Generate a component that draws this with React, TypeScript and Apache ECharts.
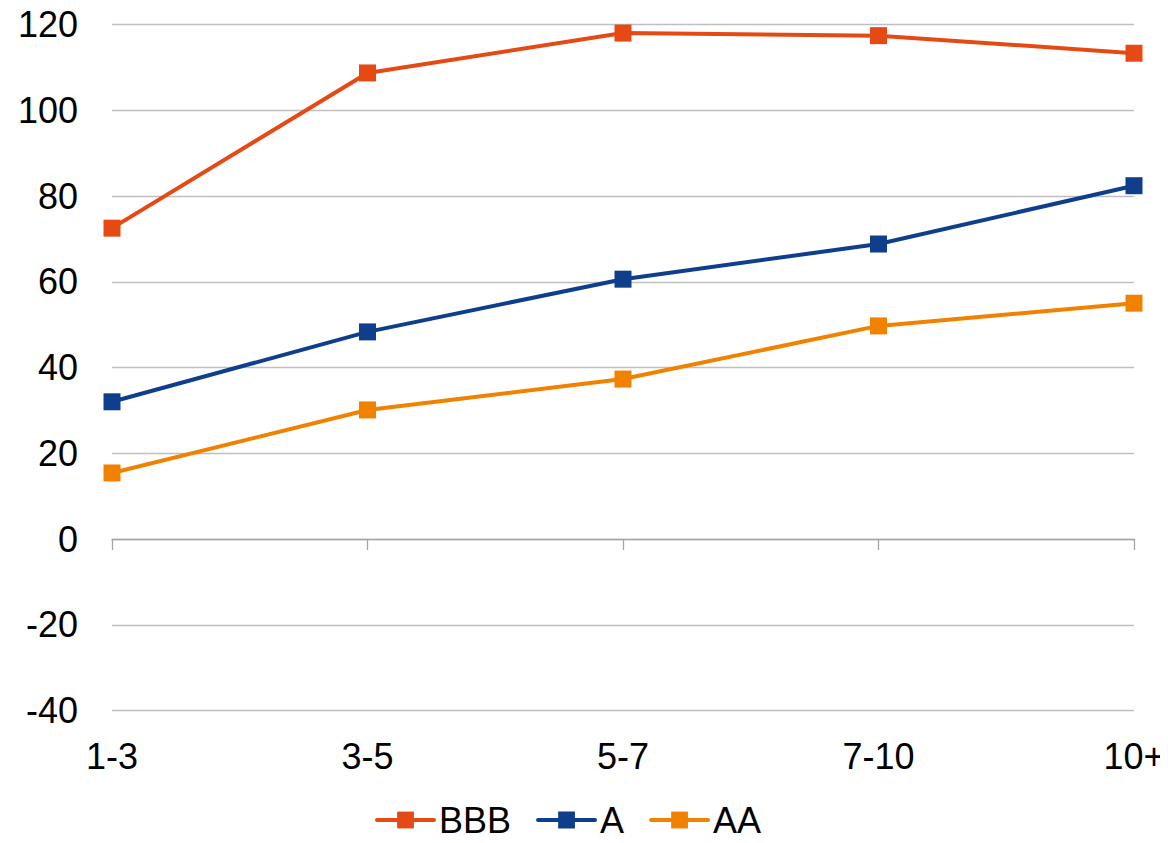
import React, { useEffect, useRef } from "react";
import * as echarts from "echarts";

const categories = ["1-3", "3-5", "5-7", "7-10", "10+"];
const bbb = [72.5, 108.7, 118.0, 117.4, 113.3];
const a = [32.0, 48.3, 60.6, 68.8, 82.4];
const aa = [15.4, 30.1, 37.3, 49.7, 55.0];

const FONT = "'Liberation Sans', Arial, sans-serif";

export default function App() {
  const ref = useRef<HTMLDivElement>(null);
  useEffect(() => {
    if (!ref.current) return;
    const chart = echarts.init(ref.current, undefined, { renderer: "svg" });
    const mk = (name: string, data: number[], color: string) => ({
      name,
      type: "line",
      data,
      xAxisIndex: 0,
      symbol: "rect",
      symbolSize: 17,
      lineStyle: { color, width: 4 },
      itemStyle: { color },
    });
    chart.setOption({
      animation: false,
      textStyle: { fontFamily: FONT },
      grid: { left: 112, right: 34, top: 24.5, bottom: 132.5, containLabel: false },
      xAxis: [
        {
          type: "category",
          data: categories,
          boundaryGap: false,
          position: "bottom",
          axisLine: { show: false, onZero: false },
          axisTick: { show: false },
          splitLine: { show: false },
          axisLabel: { color: "#000", fontSize: 36, fontFamily: FONT, margin: 28 },
        },
        {
          type: "category",
          data: categories,
          boundaryGap: false,
          position: "top",
          axisLine: { show: true, onZero: true, lineStyle: { color: "#A6A6A6", width: 1.3 } },
          axisTick: { show: true, inside: true, length: 11, lineStyle: { color: "#A6A6A6", width: 1.3 } },
          axisLabel: { show: false },
          splitLine: { show: false },
        },
      ],
      yAxis: {
        type: "value",
        min: -40,
        max: 120,
        interval: 20,
        axisLine: { show: false },
        axisTick: { show: false },
        splitLine: { lineStyle: { color: "#BFBFBF", width: 1.3 } },
        axisLabel: { color: "#000", fontSize: 36, fontFamily: FONT, margin: 34 },
      },
      legend: {
        left: 375,
        top: 802,
        padding: 0,
        itemWidth: 57,
        itemHeight: 21,
        itemGap: 25,
        lineStyle: { width: 4, cap: "round" },
        textStyle: { color: "#000", fontSize: 36, fontFamily: FONT },
        data: ["BBB", "A", "AA"],
      },
      series: [mk("BBB", bbb, "#E64A14"), mk("A", a, "#0F3E8C"), mk("AA", aa, "#F08200")],
    });
    return () => chart.dispose();
  }, []);
  return <div ref={ref} style={{ width: 1168, height: 843, margin: -8 }} />;
}
